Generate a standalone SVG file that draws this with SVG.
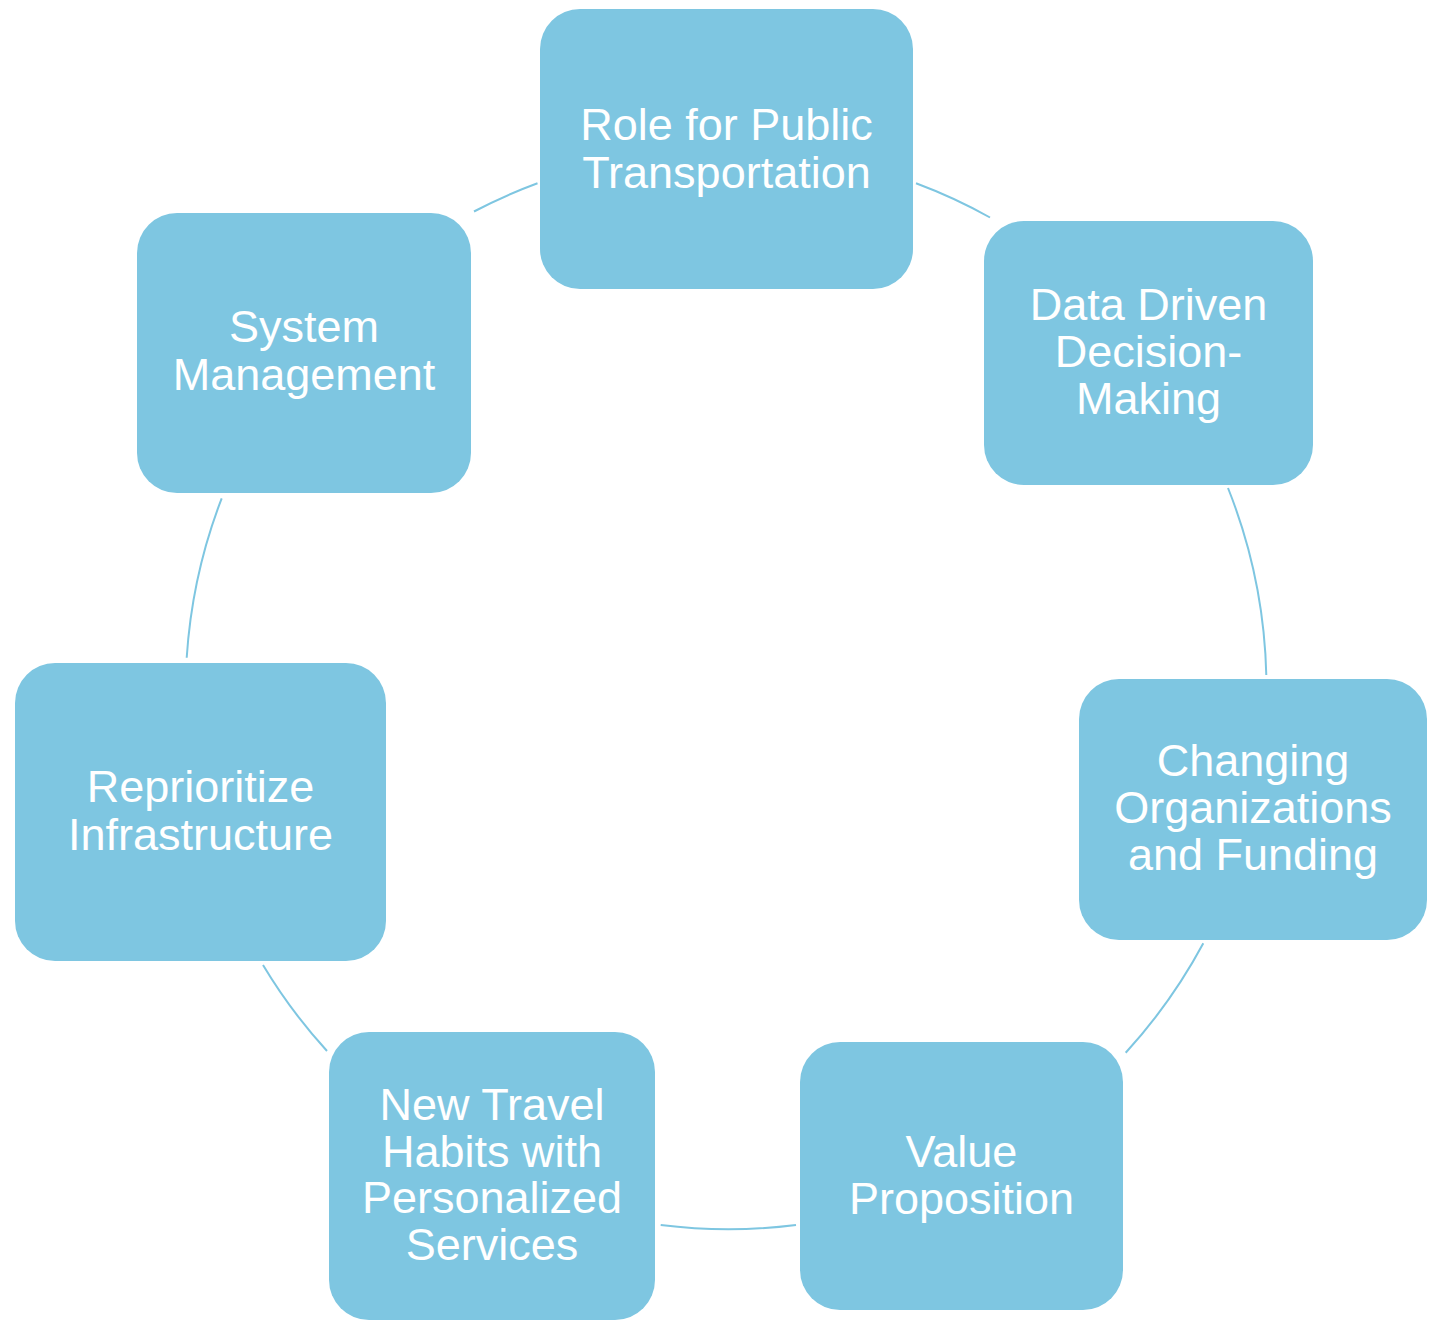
<svg xmlns="http://www.w3.org/2000/svg" width="1440" height="1320" viewBox="0 0 1440 1320">
<style>
.node rect{fill:#7ec6e1;}
.node text{fill:#ffffff;font-family:"Liberation Sans",Arial,sans-serif;font-size:45px;text-anchor:middle;}
.conn path{fill:none;stroke:#7ec6e1;stroke-width:2;}
</style>
<rect width="1440" height="1320" fill="#ffffff"/>
<g id="connectors" class="conn">
<path d="M474,211.5 A540,540 0 0 1 537.5,183.3"/>
<path d="M916,183.3 A540,540 0 0 1 990,217.5"/>
<path d="M1228,488 A540,540 0 0 1 1266.3,675"/>
<path d="M1203.3,943.3 A540,540 0 0 1 1125.7,1052.7"/>
<path d="M796,1225 A540,540 0 0 1 660.7,1225"/>
<path d="M327,1051 A540,540 0 0 1 263,965"/>
<path d="M186.7,657.7 A540,540 0 0 1 221.7,498.3"/>
</g>
<g id="node-role" class="node">
<rect x="540" y="9" width="373" height="280" rx="40" ry="40"/>
<text x="726.5" y="140">Role for Public</text>
<text x="726.5" y="188">Transportation</text>
</g>
<g id="node-data" class="node">
<rect x="984" y="221" width="329" height="264" rx="40" ry="40"/>
<text x="1148.5" y="320">Data Driven</text>
<text x="1148.5" y="367">Decision-</text>
<text x="1148.5" y="414">Making</text>
</g>
<g id="node-changing" class="node">
<rect x="1079" y="679" width="348" height="261" rx="40" ry="40"/>
<text x="1253" y="776">Changing</text>
<text x="1253" y="823">Organizations</text>
<text x="1253" y="870">and Funding</text>
</g>
<g id="node-value" class="node">
<rect x="800" y="1042" width="323" height="268" rx="40" ry="40"/>
<text x="961.5" y="1167">Value</text>
<text x="961.5" y="1214">Proposition</text>
</g>
<g id="node-travel" class="node">
<rect x="329" y="1032" width="326" height="288" rx="40" ry="40"/>
<text x="492" y="1120">New Travel</text>
<text x="492" y="1167">Habits with</text>
<text x="492" y="1213">Personalized</text>
<text x="492" y="1260">Services</text>
</g>
<g id="node-reprioritize" class="node">
<rect x="15" y="663" width="371" height="298" rx="40" ry="40"/>
<text x="200.5" y="802">Reprioritize</text>
<text x="200.5" y="850">Infrastructure</text>
</g>
<g id="node-system" class="node">
<rect x="137" y="213" width="334" height="280" rx="40" ry="40"/>
<text x="304" y="342">System</text>
<text x="304" y="390">Management</text>
</g>
</svg>
